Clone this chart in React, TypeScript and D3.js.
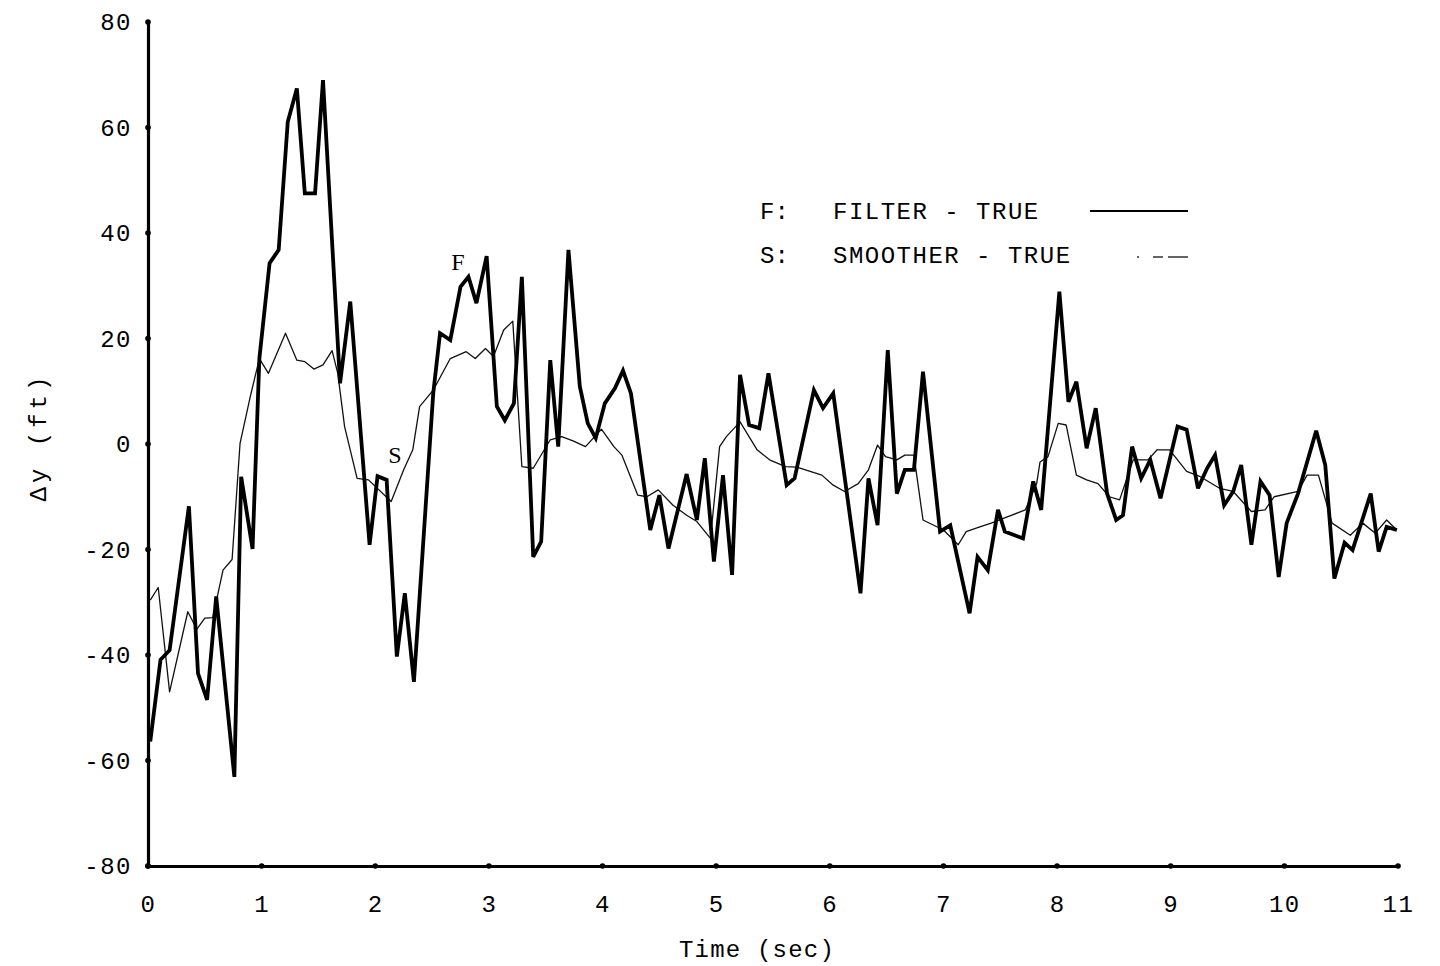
import React, { useEffect, useRef } from "react"
import * as d3 from "d3"

// Filter minus truth (thick line)
const filterTime = [
	0.02, 0.11, 0.19, 0.36, 0.44, 0.52, 0.6, 0.76, 0.82, 0.92, 0.98, 1.07, 1.15,
	1.23, 1.31, 1.38, 1.47, 1.54, 1.69, 1.78, 1.95, 2.02, 2.1, 2.19, 2.26, 2.34,
	2.51, 2.57, 2.66, 2.75, 2.82, 2.89, 2.98, 3.07, 3.14, 3.22, 3.29, 3.39, 3.46,
	3.54, 3.61, 3.7, 3.8, 3.87, 3.94, 4.02, 4.11, 4.18, 4.25, 4.42, 4.5, 4.58,
	4.74, 4.83, 4.9, 4.98, 5.06, 5.14, 5.21, 5.29, 5.38, 5.46, 5.62, 5.69, 5.86,
	5.94, 6.03, 6.27, 6.34, 6.42, 6.51, 6.59, 6.66, 6.74, 6.82, 6.97, 7.06, 7.23,
	7.3, 7.39, 7.48, 7.54, 7.7, 7.79, 7.86, 8.02, 8.1, 8.17, 8.26, 8.34, 8.44,
	8.52, 8.58, 8.66, 8.74, 8.82, 8.91, 9.06, 9.14, 9.24, 9.32, 9.39, 9.47, 9.55,
	9.62, 9.71, 9.79, 9.87, 9.95, 10.02, 10.12, 10.28, 10.36, 10.44, 10.53, 10.6,
	10.76, 10.83, 10.9, 10.99,
]
const filterValue = [
	-56.4, -40.9, -39.1, -11.8, -43.5, -48.5, -28.9, -63.1, -6.2, -19.9, 16.2,
	34.3, 36.8, 61.1, 67.4, 47.5, 47.5, 69.0, 11.5, 27.0, -19.1, -6.1, -6.8,
	-40.3, -28.3, -45.1, 9.6, 21.0, 19.7, 29.8, 31.7, 26.7, 35.6, 7.1, 4.5, 7.7,
	31.7, -21.4, -18.5, 15.9, -0.5, 36.8, 10.9, 3.9, 1.1, 7.7, 10.6, 13.9, 9.6,
	-16.3, -9.7, -19.8, -5.7, -14.4, -2.7, -22.3, -5.9, -24.8, 13.1, 3.6, 3.0,
	13.4, -7.8, -6.5, 10.2, 6.8, 9.6, -28.3, -6.5, -15.4, 17.8, -9.4, -4.9, -4.9,
	13.7, -16.6, -15.4, -32.1, -21.4, -23.9, -12.5, -16.6, -17.9, -7.1, -12.5,
	28.9, 8.0, 11.8, -0.8, 6.8, -9.4, -14.4, -13.5, -0.5, -6.5, -3.0, -10.3, 3.3,
	2.7, -8.4, -4.6, -2.1, -11.6, -9.0, -4.0, -19.1, -7.1, -9.7, -25.2, -15.0,
	-9.4, 2.5, -4.0, -25.5, -18.7, -20.1, -9.4, -20.4, -15.7, -16.3,
]

// Smoother minus truth (thin line)
const smootherTime = [
	0.02, 0.09, 0.19, 0.35, 0.43, 0.5, 0.57, 0.66, 0.74, 0.81, 0.9, 0.98, 1.06,
	1.21, 1.31, 1.38, 1.46, 1.54, 1.62, 1.67, 1.73, 1.84, 1.94, 2.14, 2.25, 2.33,
	2.39, 2.51, 2.66, 2.8, 2.88, 2.97, 3.04, 3.13, 3.21, 3.29, 3.39, 3.54, 3.64,
	3.74, 3.85, 3.99, 4.1, 4.17, 4.31, 4.39, 4.49, 4.62, 4.74, 4.83, 4.95, 5.03,
	5.09, 5.21, 5.36, 5.47, 5.61, 5.71, 5.93, 6.03, 6.13, 6.25, 6.34, 6.42, 6.49,
	6.59, 6.66, 6.74, 6.82, 7.0, 7.13, 7.2, 7.32, 7.42, 7.72, 7.82, 7.85, 7.92,
	8.01, 8.08, 8.17, 8.26, 8.36, 8.46, 8.55, 8.67, 8.8, 8.88, 8.99, 9.14, 9.26,
	9.43, 9.55, 9.71, 9.83, 9.91, 10.12, 10.2, 10.3, 10.42, 10.58, 10.69, 10.8,
	10.9, 10.99,
]
const smootherValue = [
	-29.6, -27.2, -47.0, -31.8, -35.1, -33.0, -32.9, -23.9, -21.9, 0.1, 9.0, 16.2,
	13.4, 21.0, 15.9, 15.6, 14.2, 15.0, 17.7, 13.4, 3.3, -6.5, -6.8, -10.9, -4.9,
	-1.1, 7.1, 10.2, 16.2, 17.5, 16.2, 18.1, 16.6, 21.6, 23.3, -4.3, -4.6, 0.8,
	1.4, 0.6, -0.5, 2.8, -0.5, -2.1, -9.7, -10.0, -8.7, -11.6, -13.5, -14.7,
	-17.9, -0.5, 1.4, 4.2, -1.1, -3.0, -4.3, -4.4, -5.9, -7.8, -9.0, -7.5, -4.9,
	-0.2, -2.4, -3.0, -2.1, -2.1, -14.4, -16.3, -19.1, -16.6, -15.7, -15.0, -12.5,
	-7.5, -3.4, -2.4, 3.9, 3.6, -5.9, -6.8, -7.5, -10.0, -10.6, -3.0, -3.0, -1.1,
	-1.1, -5.2, -6.2, -8.4, -9.0, -12.8, -12.5, -10.0, -9.0, -5.9, -5.9, -15.0,
	-17.3, -15.0, -16.9, -14.4, -16.3,
]

const xTicks = [0, 1, 2, 3, 4, 5, 6, 7, 8, 9, 10, 11]
const yTicks = [-80, -60, -40, -20, 0, 20, 40, 60, 80]
const legendLabels = ["F:  FILTER - TRUE", "S:  SMOOTHER - TRUE"]

const WIDTH = 1440
const HEIGHT = 966
const FONT = "'Liberation Mono', 'DejaVu Sans Mono', monospace"
const SERIF = "'Liberation Serif', 'DejaVu Serif', serif"

const ErrorChart = () => {
	const ref = useRef<SVGSVGElement>(null)

	useEffect(() => {
		const svg = d3.select(ref.current)
		svg.selectAll("*").remove()

		const x = d3.scaleLinear().domain([0, 11]).range([148, 1398])
		const y = d3.scaleLinear().domain([-80, 80]).range([866, 22])

		// Axes: thick lines, no tick marks, small dots at each tick
		// plain hyphen for negatives, like the typewritten original
		const plain = (d: d3.NumberValue) => String(d)
		const xAxis = svg
			.append("g")
			.attr("transform", `translate(0,${y(-80)})`)
			.call(
				d3.axisBottom(x).tickValues(xTicks).tickSize(0).tickPadding(29).tickFormat(plain),
			)
		const yAxis = svg
			.append("g")
			.attr("transform", `translate(${x(0)},0)`)
			.call(
				d3.axisLeft(y).tickValues(yTicks).tickSize(0).tickPadding(16).tickFormat(plain),
			)

		for (const axis of [xAxis, yAxis]) {
			axis
				.attr("font-family", FONT)
				.attr("font-size", 24)
				.attr("letter-spacing", 1.5)
			axis.selectAll("text").attr("fill", "#000")
			axis
				.select(".domain")
				.attr("stroke", "#000")
				.attr("stroke-width", 3.2)
				.attr("stroke-linecap", "square")
		}

		svg
			.append("g")
			.selectAll("circle")
			.data(xTicks)
			.join("circle")
			.attr("cx", d => x(d))
			.attr("cy", y(-80))
			.attr("r", 2.8)
		svg
			.append("g")
			.selectAll("circle")
			.data(yTicks)
			.join("circle")
			.attr("cx", x(0))
			.attr("cy", d => y(d))
			.attr("r", 2.8)

		// Axis titles
		svg
			.append("text")
			.attr("x", 757)
			.attr("y", 957)
			.attr("text-anchor", "middle")
			.attr("font-family", FONT)
			.attr("font-size", 24)
			.attr("letter-spacing", 1.2)
			.text("Time (sec)")

		svg
			.append("text")
			.attr("transform", "translate(46,437) rotate(-90)")
			.attr("text-anchor", "middle")
			.attr("font-family", FONT)
			.attr("font-size", 24)
			.attr("letter-spacing", 4)
			.text("Δy (ft)")

		const line = d3
			.line<[number, number]>()
			.x(d => x(d[0]))
			.y(d => y(d[1]))

		const smoother = smootherTime.map((t, i) => [t, smootherValue[i]] as [number, number])
		const filter = filterTime.map((t, i) => [t, filterValue[i]] as [number, number])

		svg
			.append("path")
			.datum(smoother)
			.attr("fill", "none")
			.attr("stroke", "#111")
			.attr("stroke-width", 1.3)
			.attr("stroke-linejoin", "round")
			.attr("d", line)

		svg
			.append("path")
			.datum(filter)
			.attr("fill", "none")
			.attr("stroke", "#000")
			.attr("stroke-width", 3.8)
			.attr("stroke-linejoin", "miter")
			.attr("stroke-miterlimit", 3)
			.attr("d", line)

		// In-plot curve labels
		svg
			.append("text")
			.attr("x", 458)
			.attr("y", 270)
			.attr("text-anchor", "middle")
			.attr("font-family", SERIF)
			.attr("font-size", 24)
			.text("F")
		svg
			.append("text")
			.attr("x", 395)
			.attr("y", 463)
			.attr("text-anchor", "middle")
			.attr("font-family", SERIF)
			.attr("font-size", 24)
			.text("S")

		// Legend
		const legend = svg.append("g").attr("font-family", FONT).attr("font-size", 24)
		legendLabels.forEach((label, i) => {
			const [key, rest] = label.split(/:\s+/)
			const row = legend.append("text").attr("y", 219 + i * 44)
			row.append("tspan").attr("x", 760).text(`${key}:`)
			row.append("tspan").attr("x", 833).attr("letter-spacing", 1.5).text(rest)
		})
		legend
			.append("line")
			.attr("x1", 1090)
			.attr("x2", 1188)
			.attr("y1", 211)
			.attr("y2", 211)
			.attr("stroke", "#000")
			.attr("stroke-width", 2)
		legend
			.append("line")
			.attr("x1", 1137)
			.attr("x2", 1188)
			.attr("y1", 257)
			.attr("y2", 257)
			.attr("stroke", "#333")
			.attr("stroke-width", 1.4)
			.attr("stroke-dasharray", "2,14,10,5,20")
	}, [])

	return (
		<svg
			ref={ref}
			width={WIDTH}
			height={HEIGHT}
			style={{ position: "absolute", left: 0, top: 0, background: "#fff" }}
		/>
	)
}

export default function App() {
	return <ErrorChart />
}
